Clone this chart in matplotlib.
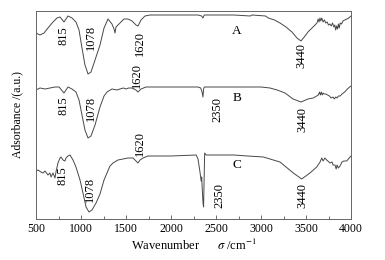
import matplotlib
matplotlib.use("Agg")
import matplotlib.pyplot as plt

# spectrum A
wn_a = [500, 544, 589, 633, 689, 733, 767, 811, 856, 900, 944, 978, 1011, 1044, 1078,
        1111, 1156, 1211, 1256, 1300, 1344, 1367, 1378, 1389, 1433, 1478, 1522, 1567, 1611,
        1633, 1667, 1711, 1767, 2000, 2300, 2340, 2355, 2370, 2700, 2880, 2900, 3050, 3081,
        3150, 3211, 3278, 3344, 3400, 3444, 3489, 3522, 3578, 3622, 3635, 3645, 3655, 3665,
        3675, 3690, 3705, 3720, 3735, 3750, 3765, 3780, 3795, 3810, 3820, 3830, 3840, 3850,
        3860, 3870, 3880, 3895, 3910, 3930, 3955, 3975, 4000]
abs_a = [186, 184, 186, 191, 197, 201, 202, 197, 203, 201, 197, 189, 171, 154, 145,
         147, 159, 174, 191, 200, 195, 190, 186, 192, 196, 200, 200, 198, 194,
         193, 199, 203, 204, 204, 204, 203, 201, 204, 204, 203, 204, 203, 201,
         199, 196, 192, 187, 181, 178, 183, 187, 192, 196, 200, 197, 201, 198,
         201, 197, 199, 196, 197, 194, 195, 193, 196, 192, 194, 189, 193, 190,
         195, 191, 196, 195, 198, 199, 200, 201, 203]

# spectrum B
wn_b = [500, 544, 600, 656, 711, 756, 811, 856, 900, 944, 978, 1011, 1044, 1078, 1111,
        1156, 1211, 1256, 1289, 1344, 1400, 1433, 1470, 1500, 1530, 1567, 1611, 1633, 1667,
        1722, 2000, 2300, 2330, 2345, 2355, 2362, 2370, 2700, 3000, 3100, 3180, 3267, 3356,
        3444, 3522, 3581, 3637, 3650, 3660, 3670, 3680, 3690, 3700, 3720, 3740, 3760, 3780,
        3800, 3815, 3830, 3845, 3860, 3880, 3900, 3930, 3960, 3985, 4000]
abs_b = [129, 131, 130, 131, 132, 132, 126, 132, 130, 127, 119, 104, 89, 81, 83,
         94, 112, 123, 127, 130, 129, 130, 131, 130, 131, 131, 129, 127, 130,
         132, 132, 132, 131, 127, 122, 130, 132, 132, 132, 131, 129, 126, 120,
         117, 120, 121, 124, 127, 124, 127, 124, 126, 125, 125, 124, 123, 121,
         122, 120, 122, 121, 123, 123, 125, 127, 130, 132, 133]

# spectrum C
wn_c = [500, 522, 555, 578, 600, 633, 655, 667, 689, 711, 722, 744, 767, 778, 800,
        822, 833, 855, 878, 911, 944, 989, 1022, 1056, 1089, 1122, 1167, 1211, 1256,
        1289, 1322, 1356, 1411, 1467, 1522, 1578, 1611, 1633, 1656, 1689, 1744, 2000, 2280,
        2300, 2322, 2335, 2341, 2348, 2356, 2362, 2368, 2374, 2390, 2700, 2850, 3026, 3211,
        3359, 3452, 3544, 3619, 3656, 3675, 3690, 3710, 3730, 3767, 3790, 3800, 3822, 3835,
        3845, 3859, 3878, 3900, 3920, 3952, 3980, 4000]
abs_c = [48, 49, 47, 46, 48, 44, 46, 42, 46, 41, 47, 56, 61, 62, 59,
         58, 61, 63, 64, 59, 52, 39, 26, 12, 7, 9, 16, 25, 39,
         46, 53, 56, 59, 60, 61, 61, 58, 56, 59, 61, 63, 63, 64,
         60, 47, 38, 42, 28, 16, 12, 40, 66, 64, 64, 63, 62, 57,
         46, 40, 46, 52, 57, 61, 58, 61, 59, 56, 57, 54, 54, 50,
         54, 51, 53, 57, 58, 58, 61, 63]

# peak labels: (text, wavenumber, height)
labels_a = [("815", 811, 183), ("1078", 1111, 182), ("1620", 1656, 176), ("3440", 3444, 164)]
labels_b = [("815", 811, 113), ("1078", 1111, 111), ("1620", 1620, 144), ("2350", 2511, 110), ("3440", 3455, 99)]
labels_c = [("815", 800, 43), ("1078", 1100, 30), ("1620", 1656, 76), ("2350", 2533, 23), ("3440", 3455, 24)]
names = [("A", 2733, 188), ("B", 2733, 121), ("C", 2733, 54)]

plt.rcParams['font.family'] = ['Liberation Serif', 'DejaVu Serif']
plt.rcParams['mathtext.fontset'] = 'stix'

fig = plt.figure(figsize=(3.85, 2.6), dpi=100)
ax = fig.add_axes([36/385, 1 - 219/260, 315/385, 208/260])

line_col = "#474747"
for wn, ab in [(wn_a, abs_a), (wn_b, abs_b), (wn_c, abs_c)]:
    ax.plot(wn, ab, color=line_col, lw=0.7)

for lab in [labels_a, labels_b, labels_c]:
    for t, x, y in lab:
        ax.text(x, y, t, rotation=90, ha="center", va="center", fontsize=9)
for t, x, y in names:
    ax.text(x, y, t, ha="center", va="center", fontsize=9.5)

ax.set_xlim(500, 4000)
ax.set_ylim(0, 208)
ax.set_xticks(range(500, 4001, 500))
ax.set_xticks(range(750, 4000, 500), minor=True)
ax.set_yticks([])
ax.tick_params(axis="x", which="major", direction="in", length=3, width=0.6,
               labelsize=8.5, pad=3, color="#555555")
ax.tick_params(axis="x", which="minor", direction="in", length=2, width=0.6, color="#555555")
for s in ax.spines.values():
    s.set_color("#666666")
    s.set_linewidth(0.7)

ax.set_xlabel("Wavenumber      $\\sigma$ /cm$^{-1}$", fontsize=9, labelpad=2)
ax.set_ylabel("Adsorbance /(a.u.)", fontsize=8.5, labelpad=9)

fig.savefig("out.png", dpi=100)
